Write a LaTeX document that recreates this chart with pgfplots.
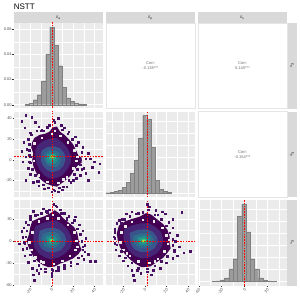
\documentclass[border=0pt]{standalone}
\usepackage{fontspec}
\setmainfont{Liberation Sans}
\usepackage{pgfplots}
\pgfplotsset{compat=1.18}
\definecolor{ggbg}{HTML}{EBEBEB}
\definecolor{stripc}{HTML}{D9D9D9}
\definecolor{tickc}{HTML}{333333}
\definecolor{labc}{HTML}{4D4D4D}
\definecolor{histf}{HTML}{9C9C9C}
\definecolor{histd}{HTML}{808080}
\definecolor{corrc}{HTML}{6E6E6E}
\definecolor{v0}{HTML}{440154}
\definecolor{vc}{HTML}{471063}
\definecolor{v1}{HTML}{482677}
\definecolor{v2}{HTML}{39568C}
\definecolor{v3}{HTML}{2D708E}
\definecolor{v4}{HTML}{238A8D}
\definecolor{v5}{HTML}{20A386}
\definecolor{v6}{HTML}{55C667}
\definecolor{v7}{HTML}{B8DE29}
\definecolor{v8}{HTML}{FDE725}
\newcommand\tickfont{\fontsize{4}{4.8}\selectfont}
\newcommand\stripfont{\fontsize{4.6}{5}\selectfont}
\pgfplotsset{
 panel/.style={scale only axis, width=89pt, height=85.5pt, anchor=north west,
   axis background/.style={fill=ggbg}, axis line style={draw=none},
   grid=both, major grid style={draw=white, line width=0.45pt},
   minor grid style={draw=white, line width=0.22pt},
   tick align=outside, major tick length=1.5pt, minor tick length=0pt,
   tick style={draw=tickc, line width=0.35pt},
   xticklabels={}, yticklabels={}, scaled ticks=false,
   ticklabel style={font=\tickfont, text=labc, inner sep=0.6pt},
   xticklabel style={rotate=45, anchor=north east},
   xtick pos=bottom, ytick pos=left, clip=true},
 hist/.style={ybar interval, fill=histf, draw=histd, line width=0.3pt},
 redl/.style={color=red, line width=0.45pt, dash pattern=on 1.6pt off 1.2pt},
 cells/.style={only marks, color=vc, mark=square*, mark size=0.8pt, mark options={draw=none, fill=vc}},
 holes/.style={only marks, color=ggbg, mark=square*, mark size=0.75pt, mark options={draw=none, fill=ggbg}},
 lay/.style={fill=#1, draw=none},
 ea/.style={xmin=-35, xmax=48, xtick={-20,0,20,40}, minor xtick={-30,-10,10,30}},
 ep/.style={xmin=-36, xmax=46.5, xtick={-20,0,20,40}, minor xtick={-30,-10,10,30}},
 es/.style={xmin=-61, xmax=56, xtick={-60,-30,0,30}, minor xtick={-45,-15,15,45}},
 yep/.style={ymin=-36, ymax=46.5, ytick={-20,0,20,40}, minor ytick={-30,-10,10,30}},
 yes/.style={ymin=-61, ymax=56, ytick={-60,-30,0,30}, minor ytick={-45,-15,15,45}},
}
\begin{document}
\begin{tikzpicture}
\useasboundingbox (0pt,0pt) rectangle (300pt,-300pt);
% title
\node[anchor=base west, inner sep=0pt, font=\fontsize{8}{9}\selectfont] at (13.6pt,-9.3pt) {NSTT};
% top strips
\fill[stripc] (14pt,-12.3pt) rectangle (103pt,-23pt);
\fill[stripc] (106pt,-12.3pt) rectangle (195pt,-23pt);
\fill[stripc] (198pt,-12.3pt) rectangle (287pt,-23pt);
\node[font=\stripfont, text=black!85] at (58.5pt,-17.6pt) {ε\textsubscript{a}};
\node[font=\stripfont, text=black!85] at (150.5pt,-17.6pt) {ε\textsubscript{p}};
\node[font=\stripfont, text=black!85] at (242.5pt,-17.6pt) {ε\textsubscript{s}};
% right strips
\fill[stripc] (287pt,-23pt) rectangle (297pt,-108.5pt);
\fill[stripc] (287pt,-111.5pt) rectangle (297pt,-197pt);
\fill[stripc] (287pt,-200pt) rectangle (297pt,-285.5pt);
\node[font=\stripfont, text=black!85, rotate=-90] at (292pt,-65.75pt) {ε\textsubscript{a}};
\node[font=\stripfont, text=black!85, rotate=-90] at (292pt,-154.25pt) {ε\textsubscript{p}};
\node[font=\stripfont, text=black!85, rotate=-90] at (292pt,-242.75pt) {ε\textsubscript{s}};
% correlation panels
\draw[black!10, fill=white, line width=0.3pt] (106pt,-23pt) rectangle (195pt,-108.5pt);
\draw[black!10, fill=white, line width=0.3pt] (198pt,-23pt) rectangle (287pt,-108.5pt);
\draw[black!10, fill=white, line width=0.3pt] (198pt,-111.5pt) rectangle (287pt,-197pt);
\node[font=\tickfont, text=corrc, align=center] at (150.5pt,-66pt) {Corr:\\-0.138***};
\node[font=\tickfont, text=corrc, align=center] at (242.5pt,-66pt) {Corr:\\0.140***};
\node[font=\tickfont, text=corrc, align=center] at (242.5pt,-154.25pt) {Corr:\\-0.154***};

% ---------- row 1, col 1: histogram of e_a (density)
\begin{axis}[panel, ea, at={(14pt,-23pt)}, ymin=-0.003, ymax=0.065,
  ytick={0,0.02,0.04,0.06}, minor ytick={0.01,0.03,0.05},
  yticklabels={0.00,0.02,0.04,0.06}, xmajorticks=false]
\addplot[hist] coordinates {(-24.6,0.0004) (-20.76,0.0012) (-16.94,0.004) (-13.12,0.008)
 (-9.3,0.019) (-5.48,0.040) (-1.66,0.062) (2.16,0.047) (5.98,0.031) (9.8,0.014)
 (13.62,0.0055) (17.44,0.0025) (21.26,0.0012) (25.08,0.0006) (28.9,0.0003) (32.72,0)};
\addplot[redl] coordinates {(1,-1) (1,1)};
\end{axis}

% ---------- row 2, col 1: e_a vs e_p
\begin{axis}[panel, ea, yep, at={(14pt,-111.5pt)}, yticklabels={-20,0,20,40}, xmajorticks=false]
\addplot[lay=v0] coordinates {(-16,21) (-11,24) (-6,25) (-2,27) (1,31) (5,32) (8,27) (12,24) (16,20) (20,15) (23,9) (25,4) (28,2) (28,-3) (24,-6) (21,-10) (18,-15) (13,-20) (9,-23) (5,-26) (0,-25) (-5,-23) (-9,-20) (-12,-17) (-15,-11) (-17,-6) (-18,0) (-17,6) (-19,12) (-18,17)} -- cycle;
\addplot[lay=v1] coordinates {(-13,14) (-8,18) (-2,20) (4,21) (10,17) (15,11) (18,4) (18,-3) (15,-9) (10,-15) (4,-18) (-2,-18) (-7,-15) (-11,-10) (-14,-4) (-15,3) (-15,9)} -- cycle;
\addplot[lay=v2] coordinates {(-9,9) (-4,12) (2,13) (8,11) (12,6) (13,0) (11,-6) (7,-10) (1,-12) (-4,-10) (-8,-6) (-10,-1) (-10,4)} -- cycle;
\addplot[lay=v3] coordinates {(-6,6) (-2,9) (3,9) (7,7) (9,2) (8,-3) (5,-7) (0,-7) (-4,-5) (-6,-2) (-7,2)} -- cycle;
\addplot[lay=v4] coordinates {(-4,5) (0,7) (4,6) (6,3) (6,-1) (3,-4) (-1,-4) (-4,-2) (-5,1)} -- cycle;
\addplot[lay=v5] coordinates {(-2,4) (1,5.5) (4,4) (4,1) (2,-2) (-1,-1.5) (-3,1)} -- cycle;
\addplot[lay=v6] coordinates {(-1,4) (1,5) (3,3.5) (2.5,1) (0,1) (-1.5,2)} -- cycle;
\addplot[lay=v7] coordinates {(-0.5,3.6) (1,4.4) (2,3) (1,2) (-0.3,2.4)} -- cycle;
\addplot[holes] coordinates {(-16,16) (-16.5,-1) (-12,-15) (-4,-21) (6,-22) (14,-17) (20,-8) (23,-1) (21,9) (15,17) (8,23) (0,25) (-9,21) (24,3) (11,-19) (3,28)};
\addplot[cells] coordinates {(-24,43) (-18.5,41) (-28,37) (-15,36) (-20,26) (-25,31) (-12,32) (-9,29) (-22,20) (-26,17) (-23,10) (-28,8) (-24,3) (-27,-2) (-22,-8) (-20,-14) (-24,-20) (-17,-22) (-12,-25) (-7,-28) (0,-31) (6,-31) (10,-29) (14,-26) (18,-22) (23,-18) (27,-15) (32,-13) (34,-20) (30,-8) (36,1) (40,-2) (44,-12) (38,-7) (34,6) (29,12) (25,17) (22,22) (16,27) (12,31) (6,40) (2,38) (-4,31) (-10,28) (45,-4) (-21,-2) (-21,5) (27,0) (20,-20) (-14,-21) (3,-30) (9,33) (-2,33) (28,-9)
 (-19,24) (-14,28) (-8,28) (-4,32) (3,36) (10,29) (15,25) (19,20) (23,14) (28,7) (32,1) (27,-5) (24,-9) (21,-14) (16,-20) (11,-26) (7,-27) (2,-29) (-3,-27) (-8,-24) (-12,-21) (-15,-15) (-18,-9) (-20,-3) (-20,3) (-21,9) (-21,15)};
\addplot[redl] coordinates {(1,-40) (1,50)};
\addplot[redl] coordinates {(-40,3.4) (50,3.4)};
\end{axis}

% ---------- row 2, col 2: histogram of e_p
\begin{axis}[panel, ep, at={(106pt,-111.5pt)}, ymin=-3.9, ymax=81.9,
  ytick={0,24,48,72}, minor ytick={12,36,60}, xmajorticks=false, ymajorticks=false]
\addplot[hist] coordinates {(-35.75,0.4) (-32,0.8) (-28.25,1.5) (-24.5,3) (-20.75,6) (-17,11)
 (-13.25,20) (-9.5,33) (-5.75,55) (-2,78) (1.75,74) (5.5,46) (9.25,13) (13,4) (16.75,1.5) (20.5,0.5) (24.25,0)};
\addplot[redl] coordinates {(2.5,-10) (2.5,100)};
\end{axis}

% ---------- row 3, col 1: e_a vs e_s
\begin{axis}[panel, ea, yes, at={(14pt,-200pt)}, xticklabels={-20,0,20,40}, yticklabels={-60,-30,0,30}]
\addplot[lay=v0] coordinates {(-18,27) (-12,31) (-6,34) (-1,38) (3,42) (7,38) (11,31) (16,25) (21,19) (24,11) (25,3) (26,-5) (28,-12) (25,-18) (20,-24) (14,-28) (8,-31) (3,-35) (-3,-36) (-8,-33) (-13,-28) (-17,-21) (-20,-13) (-22,-6) (-23,1) (-21,9) (-20,18)} -- cycle;
\addplot[lay=v1] coordinates {(-15,20) (-9,24) (-2,27) (4,28) (10,23) (15,16) (18,7) (19,-3) (17,-11) (12,-18) (6,-23) (-1,-25) (-7,-22) (-12,-17) (-16,-9) (-17,0) (-17,10)} -- cycle;
\addplot[lay=v2] coordinates {(-11,14) (-5,17) (2,18) (8,15) (12,9) (14,1) (12,-7) (8,-13) (2,-16) (-4,-15) (-9,-11) (-12,-4) (-12,5)} -- cycle;
\addplot[lay=v3] coordinates {(-8,9) (-3,12) (3,12) (7,9) (9,3) (8,-4) (4,-9) (-1,-10) (-6,-8) (-8,-3) (-9,3)} -- cycle;
\addplot[lay=v4] coordinates {(-5,6) (0,8) (4,6) (6,1) (5,-4) (1,-6) (-3,-5) (-5,-1)} -- cycle;
\addplot[lay=v5] coordinates {(-3,3.5) (1,4.5) (3.5,2) (3,-2) (0,-3.5) (-2.5,-2) (-3.5,0.5)} -- cycle;
\addplot[lay=v6] coordinates {(-1.5,2) (1,2.8) (2.2,0.5) (1,-1.5) (-1.2,-1)} -- cycle;
\addplot[lay=v7] coordinates {(-0.6,1.2) (0.8,1.5) (1.3,-0.2) (0,-0.9) (-0.8,0)} -- cycle;
\addplot[holes] coordinates {(-21,-2) (-19,-12) (-15,-22) (-8,-29) (2,-31) (10,-27) (17,-20) (22,-12) (23,0) (21,12) (15,22) (6,31) (-4,31) (-12,27) (-18,12) (24,-8) (-10,-28) (1,36)};
\addplot[cells] coordinates {(-17,41) (-10,38) (-8,44) (-4,39) (2,50) (5,47) (8,43) (12,38) (-13,36) (-20,34) (-24,26) (-26,18) (-28,13) (-27,5) (-30,-4) (-27,-11) (-25,-20) (-22,-29) (-18,-37) (-17,-46) (-16,-54) (-12,-44) (-6,-42) (0,-44) (6,-40) (12,-37) (18,-34) (24,-31) (30,-25) (36,-28) (41,-28) (34,-18) (31,-6) (32,4) (29,14) (26,22) (21,28) (16,34) (22,33) (28,-20) (-14,-40) (-10,-38) (4,-41) (-25,-3) (29,-12) (-5,41) (14,30) (-22,22) (1,-40) (0,-48)
 (-20,30) (-15,35) (-9,38) (-2,43) (4,48) (9,38) (14,31) (19,25) (24,17) (27,9) (28,0) (29,-8) (31,-15) (25,-23) (18,-29) (12,-33) (6,-36) (0,-39) (-6,-38) (-12,-33) (-16,-27) (-20,-19) (-23,-10) (-26,-2) (-24,6) (-23,14) (-22,22)};
\addplot[redl] coordinates {(1,-70) (1,60)};
\addplot[redl] coordinates {(-40,0) (50,0)};
\end{axis}

% ---------- row 3, col 2: e_p vs e_s
\begin{axis}[panel, ep, yes, at={(106pt,-200pt)}, xticklabels={-20,0,20,40}, ymajorticks=false]
\addplot[lay=v0] coordinates {(-24,21) (-18,27) (-12,30) (-5,33) (1,38) (6,36) (11,30) (17,23) (21,15) (23,6) (23,-4) (24,-10) (21,-16) (17,-23) (11,-29) (5,-35) (-3,-36) (-9,-31) (-14,-25) (-19,-17) (-23,-9) (-25,0) (-26,10) (-25,16)} -- cycle;
\addplot[lay=v1] coordinates {(-19,16) (-12,21) (-4,24) (4,24) (10,19) (15,12) (17,3) (16,-7) (12,-16) (5,-22) (-3,-24) (-10,-20) (-15,-13) (-18,-5) (-20,5)} -- cycle;
\addplot[lay=v2] coordinates {(-14,11) (-7,15) (1,16) (7,13) (11,6) (12,-2) (9,-10) (3,-15) (-4,-15) (-10,-11) (-13,-4)} -- cycle;
\addplot[lay=v3] coordinates {(-10,7) (-4,10) (3,10) (7,6) (8,0) (6,-6) (1,-9) (-5,-9) (-9,-5) (-11,1)} -- cycle;
\addplot[lay=v4] coordinates {(-7,5) (-2,7) (3,6) (5,2) (4,-3) (0,-6) (-5,-5) (-7,-1)} -- cycle;
\addplot[lay=v5] coordinates {(-5,3) (-1,4.5) (2,3) (2.5,-1) (0,-3.5) (-3.5,-3) (-5,0)} -- cycle;
\addplot[lay=v6] coordinates {(-3,1.5) (-0.5,2.5) (1,0.5) (0,-2) (-2.5,-1.5)} -- cycle;
\addplot[lay=v7] coordinates {(-2.2,0.6) (-0.6,1.2) (0.2,-0.5) (-1.2,-1.6) (-2.2,-0.8)} -- cycle;
\addplot[holes] coordinates {(-22,12) (-23,-2) (-20,-12) (-14,-20) (-6,-28) (4,-30) (12,-24) (18,-14) (21,-4) (20,8) (16,18) (8,27) (-2,29) (-12,26) (-18,20) (22,2) (-17,-17) (9,-28)};
\addplot[cells] coordinates {(-17,37) (-19,30) (-12,40) (-6,38) (2,50) (4,47) (10,42) (16,40) (19,37) (34,39) (26,30) (-24,28) (-28,16) (-29,6) (-28,-3) (-27,-12) (-24,-20) (-20,-27) (-16,-34) (-12,-40) (-11,-47) (-10,-54) (-4,-44) (2,-42) (8,-40) (14,-37) (20,-30) (26,-24) (30,-20) (36,-16) (42,-14) (32,-8) (28,0) (30,8) (26,18) (22,26) (6,-46) (-7,-40) (27,-12) (-22,24) (12,36)
 (-26,24) (-21,30) (-14,34) (-8,37) (-2,39) (3,43) (9,36) (15,30) (20,21) (23,11) (26,2) (26,-6) (27,-14) (21,-21) (15,-28) (9,-34) (2,-38) (-6,-37) (-12,-30) (-18,-23) (-22,-14) (-26,-5) (-28,4) (-28,12)};
\addplot[redl] coordinates {(2.5,-70) (2.5,60)};
\addplot[redl] coordinates {(-40,0) (50,0)};
\end{axis}

% ---------- row 3, col 3: histogram of e_s
\begin{axis}[panel, es, at={(198pt,-200pt)}, ymin=-11.55, ymax=242.55,
  ytick={0,72,144,216}, minor ytick={36,108,180}, xticklabels={-60,-30,0,30}, ymajorticks=false]
\addplot[hist] coordinates {(-42.8,1) (-37.2,2) (-31.6,5) (-26,11) (-20.4,38) (-14.8,68) (-9.2,195)
 (-3.6,231) (2,148) (7.6,68) (13.2,38) (18.8,11) (24.4,4) (30,2) (35.6,1) (41.2,0)};
\addplot[redl] coordinates {(-0.5,-20) (-0.5,260)};
\end{axis}
\end{tikzpicture}
\end{document}
